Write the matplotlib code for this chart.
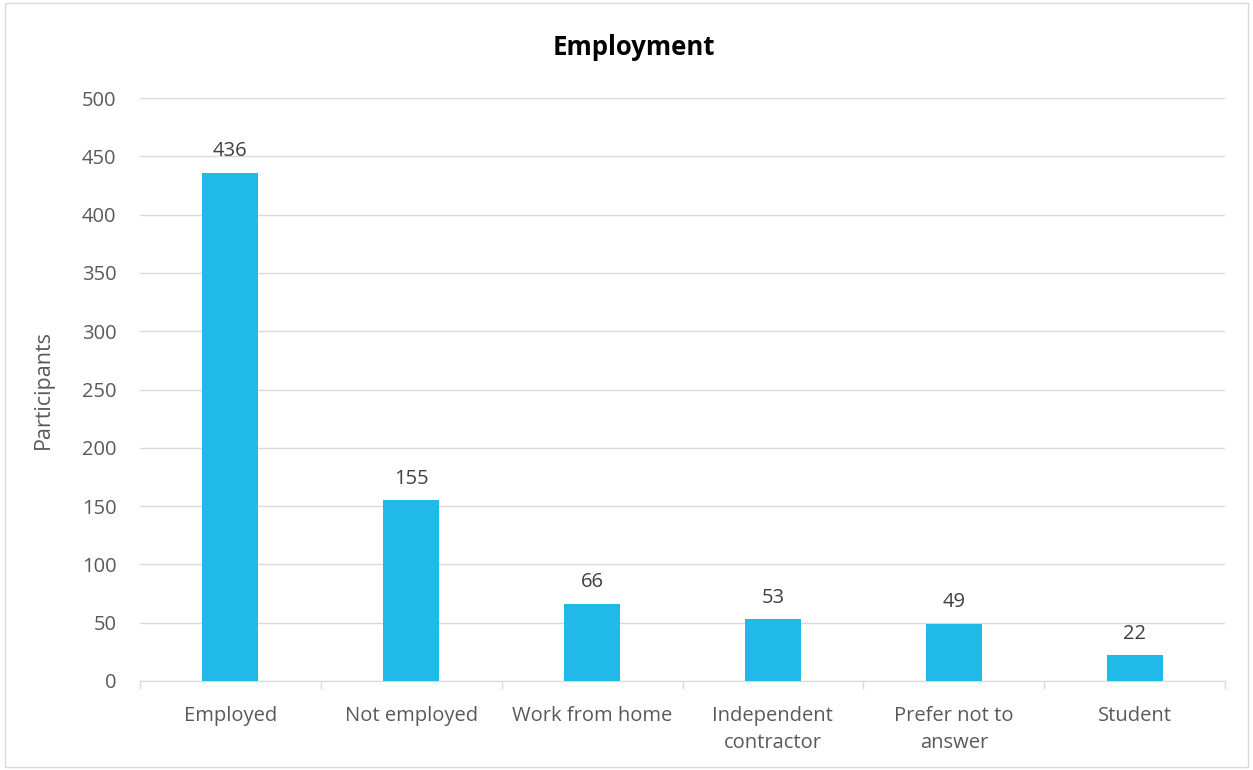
import matplotlib.pyplot as plt
from matplotlib.patches import Rectangle

# Employment status of participants
categorias = ['Employed', 'Not employed', 'Work from home',
              'Independent\ncontractor', 'Prefer not to\nanswer', 'Student']
participantes = [436, 155, 66, 53, 49, 22]
yticks = [0, 50, 100, 150, 200, 250, 300, 350, 400, 450, 500]

plt.rcParams['font.family'] = ['Open Sans', 'DejaVu Sans']
cinza = '#595959'

fig = plt.figure(figsize=(12.53, 7.70), dpi=100)
ax = fig.add_axes([0.1117, 0.1156, 0.866, 0.757])

x = range(len(categorias))
barras = ax.bar(x, participantes, width=0.31, color='#21B9E8', zorder=3)

for xi, v in zip(x, participantes):
    ax.text(xi, v + 10, str(v), ha='center', va='bottom', fontsize=14.5, color='#404040')

ax.set_xlim(-0.5, len(categorias) - 0.5)
ax.set_ylim(0, 500)
ax.set_yticks(yticks)
ax.set_yticklabels([str(t) for t in yticks], fontsize=14.5, color=cinza)
ax.yaxis.grid(True, color='#D9D9D9', linewidth=1, zorder=0)
ax.tick_params(axis='y', length=0, pad=17)

# category labels, with tick marks on the boundaries between categories
ax.set_xticks(list(x))
ax.set_xticklabels(categorias, fontsize=14.5, color=cinza, linespacing=1.45)
ax.tick_params(axis='x', which='major', length=0, pad=18)
ax.set_xticks([i - 0.5 for i in range(len(categorias) + 1)], minor=True)
ax.tick_params(axis='x', which='minor', length=6, color='#D9D9D9', width=1)

for lado in ['top', 'right', 'left']:
    ax.spines[lado].set_visible(False)
ax.spines['bottom'].set_color('#D9D9D9')

ax.set_ylabel('Participants', fontsize=15.5, color=cinza, labelpad=20)
fig.text(0.506, 0.938, 'Employment', ha='center', va='center',
         fontsize=18.5, fontweight='bold', color='black')

# thin frame around the whole chart
fig.patches.append(Rectangle((0.004, 0.004), 0.992, 0.992, transform=fig.transFigure,
                             fill=False, edgecolor='#D9D9D9', linewidth=1))

fig.savefig('out.png', dpi=100)
